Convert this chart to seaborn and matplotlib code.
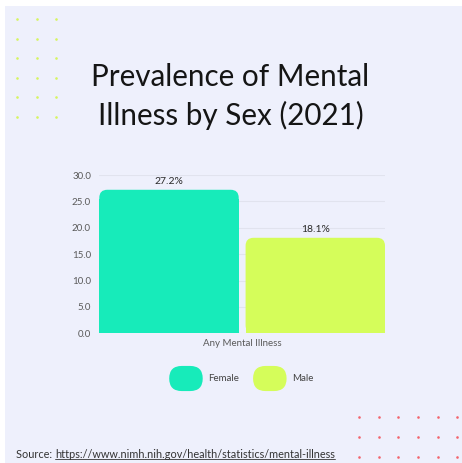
import matplotlib
matplotlib.use("Agg")
import matplotlib.pyplot as plt
import seaborn as sns
import pandas as pd
from matplotlib.patches import FancyBboxPatch, Rectangle
from matplotlib.legend_handler import HandlerPatch
from matplotlib.lines import Line2D

# ---- data ----
category = ["Any Mental Illness", "Any Mental Illness"]
sexes = ["Female", "Male"]
values = [27.2, 18.1]
value_labels = ["27.2%", "18.1%"]
y_ticks = [0, 5, 10, 15, 20, 25, 30]
title_lines = ["Prevalence of Mental", "Illness by Sex (2021)"]
source_prefix = "Source: "
source_url = "https://www.nimh.nih.gov/health/statistics/mental-illness"

colors = {"Female": "#17EBBA", "Male": "#D5FD5A"}
BG = "#EEF0FC"

sns.set_theme(style="white")
plt.rcParams["font.family"] = ["Lato", "DejaVu Sans"]

W, H = 462, 463
fig = plt.figure(figsize=(W / 100, H / 100), dpi=100)
fig.patch.set_facecolor("white")

# background panel + decoration overlay
deco = fig.add_axes([0, 0, 1, 1], zorder=0)
deco.set_xlim(0, W)
deco.set_ylim(H, 0)
deco.axis("off")
deco.add_patch(Rectangle((5, 6), W - 5, H - 6, fc=BG, ec="none"))
gx = [17.3, 36.7, 56.3]
gy = [19.3, 38.7, 58.0, 77.7, 97.0, 116.7]
deco.scatter([x for x in gx for _ in gy], [y for _ in gx for y in gy],
             s=3.5, c="#D6F55E", linewidths=0)
rx = [359.3, 379.0, 398.3, 418.0, 437.7, 457.0]
ry = [416.8, 436.7, 456.5]
deco.scatter([x for x in rx for _ in ry], [y for _ in rx for y in ry],
             s=3.5, c="#F2646C", linewidths=0)

# title
for i, line in enumerate(title_lines):
    fig.text(230.5 / W, 1 - (86 + 39 * i) / H, line, ha="center", va="baseline",
             fontsize=21.3, color="#151515")

# main axes
ax_left, ax_right = 99.3, 385.0
y0_px, y30_px = 333.3, 175.0
ax = fig.add_axes([ax_left / W, 1 - y0_px / H, (ax_right - ax_left) / W,
                   (y0_px - y30_px) / H], zorder=1)
ax.set_facecolor("none")

df = pd.DataFrame({"cat": category, "sex": sexes, "val": values})
sns.barplot(data=df, x="cat", y="val", hue="sex", palette=colors, ax=ax,
            gap=0.047, width=0.8, saturation=1, legend=True)

bars = [p for p in ax.patches if p.get_height() > 0 and p.get_width() > 0]
xmin = min(b.get_x() for b in bars)
xmax = max(b.get_x() + b.get_width() for b in bars)
ax.set_xlim(xmin, xmax)
ax.set_ylim(0, 30)
ax.set_yticks(y_ticks)
ax.set_yticklabels([f"{t:.1f}" for t in y_ticks])
ax.set_xlabel("")
ax.set_ylabel("")
for s in ax.spines.values():
    s.set_visible(False)
ax.grid(axis="y", color="#E1E3EE", linewidth=0.8)
ax.set_axisbelow(True)
ax.tick_params(axis="y", length=0, pad=6, labelsize=7, labelcolor="#5A5A5A")
ax.tick_params(axis="x", length=0, pad=4, labelsize=7, labelcolor="#5A5A5A")

# rounded tops
px_per_x = (ax_right - ax_left) / (xmax - xmin)
px_per_y = (y0_px - y30_px) / 30.0
r_px = 8.0
for bar in bars:
    x, y = bar.get_x(), bar.get_y()
    w, h = bar.get_width(), bar.get_height()
    fc = bar.get_facecolor()
    rx_ = r_px / px_per_x
    ry_ = r_px / px_per_y
    rounded = FancyBboxPatch((x, y), w, h,
                             boxstyle=f"round,pad=0,rounding_size={rx_}",
                             mutation_aspect=ry_ / rx_, fc=fc, ec="none", zorder=2)
    ax.add_patch(rounded)
    bar.set_height(h - ry_ * 1.2)
    bar.set_edgecolor("none")
    bar.set_zorder(2)

# value labels
for bar, lab, v in zip(bars, value_labels, values):
    ax.annotate(lab, (bar.get_x() + bar.get_width() / 2, v), xytext=(0, 8),
                textcoords="offset pixels", ha="center", va="center",
                fontsize=7.5, color="#2A2A2A", annotation_clip=False)

# legend with pill handles
class PillHandler(HandlerPatch):
    def create_artists(self, legend, orig_handle, xdescent, ydescent,
                       width, height, fontsize, trans):
        p = FancyBboxPatch((-xdescent, -ydescent), width, height,
                           boxstyle=f"round,pad=0,rounding_size={height / 2}",
                           fc=orig_handle.get_facecolor(), ec="none",
                           transform=trans)
        return [p]

handles, labels = ax.get_legend_handles_labels()
ax.get_legend().remove()
leg = fig.legend(handles, labels, loc="center", bbox_to_anchor=(241.5 / W, 1 - 378.5 / H),
                 ncol=2, frameon=False, fontsize=7, handlelength=3.45,
                 handleheight=3.6, handletextpad=0.6, columnspacing=1.4,
                 handler_map={Rectangle: PillHandler()})
for t in leg.get_texts():
    t.set_color("#444444")

# source line with underlined URL
src_y = 1 - 457.5 / H
t1 = fig.text(16 / W, src_y, source_prefix, ha="left", va="baseline",
              fontsize=7.8, color="#333333")
fig.canvas.draw()
bb = t1.get_window_extent()
t2 = fig.text(bb.x1 / W, src_y, source_url, ha="left", va="baseline",
              fontsize=7.8, color="#333333")
fig.canvas.draw()
bb2 = t2.get_window_extent()
uy = src_y - 1.8 / H
fig.add_artist(Line2D([bb2.x0 / W, bb2.x1 / W], [uy, uy], color="#333333",
                      linewidth=0.6))

fig.savefig("out.png", dpi=100, facecolor=fig.get_facecolor())
